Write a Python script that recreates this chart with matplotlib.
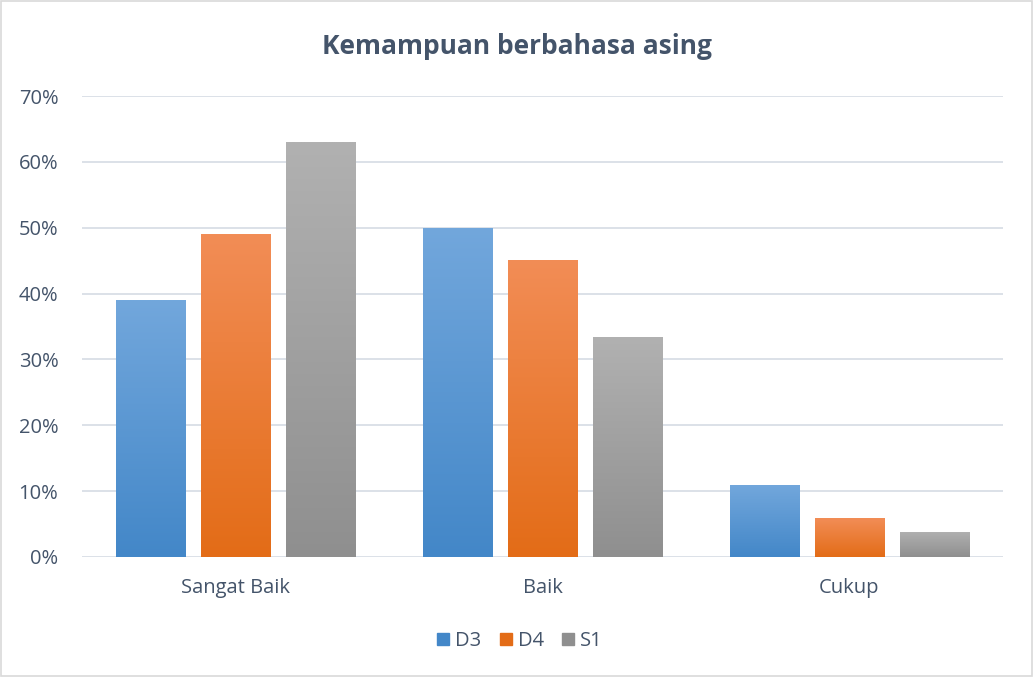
import numpy as np
import matplotlib
matplotlib.use('Agg')
import matplotlib.pyplot as plt
from matplotlib.colors import LinearSegmentedColormap
from matplotlib.patches import Rectangle

# ── data ──────────────────────────────────────────────────────────────────────
categories = ['Sangat Baik', 'Baik', 'Cukup']
series_names = ['D3', 'D4', 'S1']
d3 = [0.39, 0.50, 0.109]
d4 = [0.49, 0.451, 0.059]
s1 = [0.63, 0.334, 0.038]
y_ticks = [0, 0.1, 0.2, 0.3, 0.4, 0.5, 0.6, 0.7]

# gradient colours (top, bottom) per series
grad = {
    'D3': ('#72A7DC', '#4387C8'),
    'D4': ('#F28D56', '#E36C17'),
    'S1': ('#B1B1B1', '#8F8F8F'),
}
text_col = '#44546A'

plt.rcParams['font.family'] = ['Open Sans', 'DejaVu Sans']

fig = plt.figure(figsize=(10.34, 6.77), dpi=100)
ax = fig.add_axes([82 / 1034, 1 - 557 / 677, 921 / 1034, 461 / 677])

x = np.arange(len(categories))
width = 0.225
step = 0.277

for k, (name, vals) in enumerate(zip(series_names, [d3, d4, s1])):
    top, bot = grad[name]
    cmap = LinearSegmentedColormap.from_list(name, [bot, top])
    bars = ax.bar(x + (k - 1) * step, vals, width, color=grad[name][1],
                  label=name, zorder=3)
    # vertical gradient inside each bar
    for b in bars:
        x0, y0 = b.get_x(), b.get_y()
        w, h = b.get_width(), b.get_height()
        im = ax.imshow(np.linspace(0, 1, 256).reshape(-1, 1), cmap=cmap,
                       origin='lower', extent=[x0, x0 + w, y0, y0 + h],
                       aspect='auto', zorder=4)
        im.set_clip_path(b)

ax.set_xlim(-0.5, 2.5)
ax.set_ylim(0, 0.7)
ax.set_yticks(y_ticks)
ax.set_yticklabels([f'{int(round(v * 100))}%' for v in y_ticks])
ax.set_xticks(x)
ax.set_xticklabels(categories)
ax.tick_params(axis='both', length=0, labelsize=14.5, colors=text_col)
ax.tick_params(axis='y', pad=17)
ax.tick_params(axis='x', pad=15)
ax.grid(axis='y', color='#D9DEE6', linewidth=1.3, zorder=0)
for s in ax.spines.values():
    s.set_visible(False)
ax.set_axisbelow(True)

fig.text(0.5, 1 - 46 / 677, 'Kemampuan berbahasa asing', ha='center',
         va='center', fontsize=19, fontweight='bold', color=text_col)

handles = [Rectangle((0, 0), 1, 1, color=grad[n][1]) for n in series_names]
leg = fig.legend(handles, series_names, loc='center',
                 bbox_to_anchor=(520 / 1034, 1 - 641 / 677), ncol=3,
                 frameon=False, fontsize=14.5, handlelength=0.6,
                 handleheight=0.6, handletextpad=0.3, columnspacing=0.9)
for t in leg.get_texts():
    t.set_color(text_col)

# chart-area border
fig.patches.append(Rectangle((0.001, 0.001), 0.997, 0.997,
                             transform=fig.transFigure, fill=False,
                             edgecolor='#D9D9D9', linewidth=1.2))

fig.savefig('out.png', dpi=100)
